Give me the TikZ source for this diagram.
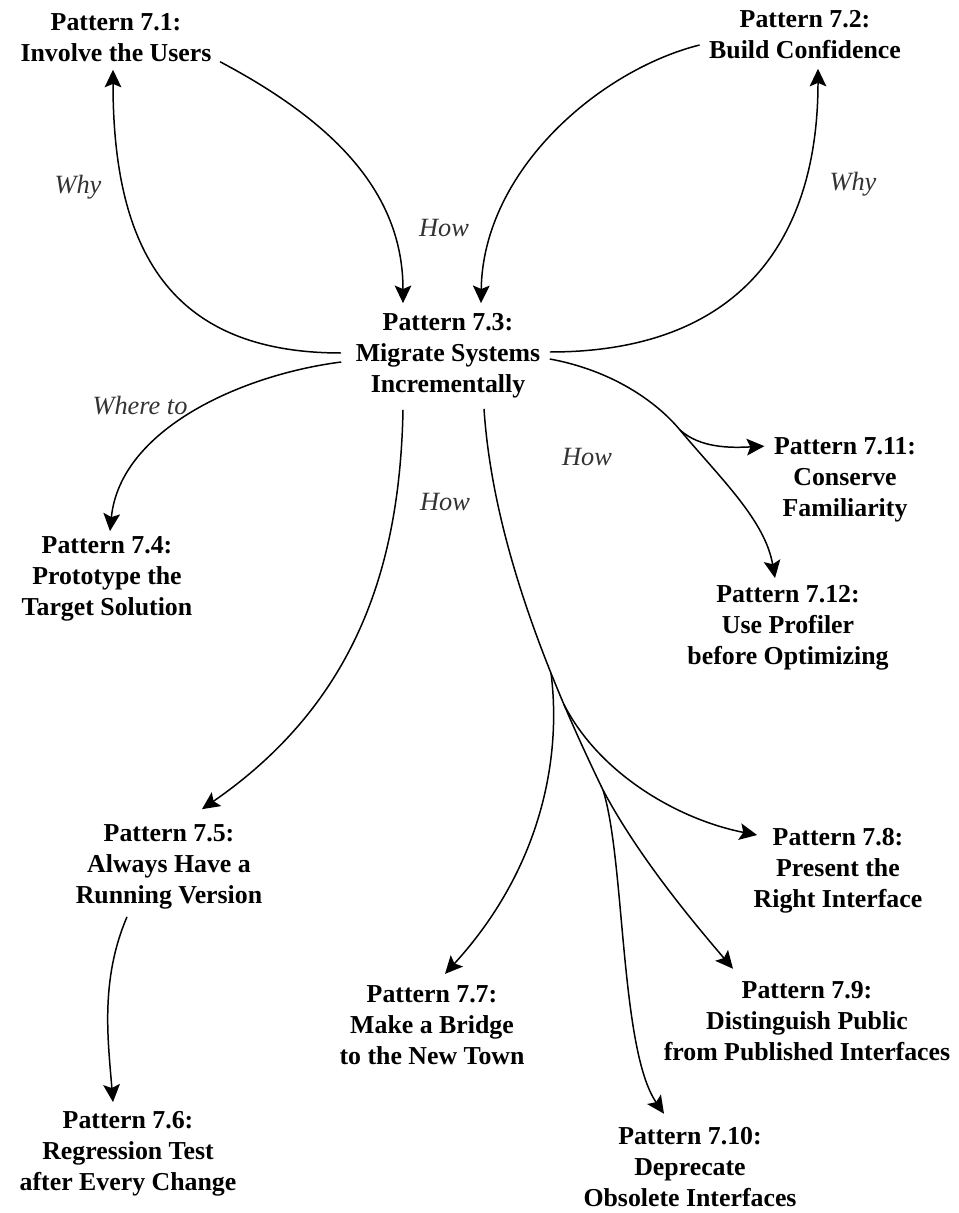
\documentclass[tikz,border=0pt]{standalone}
\usepackage{fontspec}
\setmainfont{Liberation Serif}
\usetikzlibrary{arrows.meta}

\tikzset{
  pat/.style={align=center, inner sep=3pt,
    font=\bfseries\fontsize{14.7}{17.6}\selectfont},
  lbl/.style={inner sep=0pt, text=black!80,
    font=\itshape\fontsize{15}{18}\selectfont},
  link/.style={line width=0.85pt},
  arr/.style={link, -{Stealth[length=10pt,width=9.5pt,inset=2pt]}}
}

\begin{document}
\begin{tikzpicture}[x=0.02cm,y=-0.02cm]
\useasboundingbox[fill=white] (0,0) rectangle (958,1213);

% pattern nodes
\node[pat] (n71)  at (116,38)   {Pattern 7.1:\\Involve the Users};
\node[pat] (n72)  at (805,35)   {Pattern 7.2:\\Build Confidence};
\node[pat] (n73)  at (448,356)  {Pattern 7.3:\\Migrate Systems\\Incrementally};
\node[pat] (n74)  at (107,579)  {Pattern 7.4:\\Prototype the\\Target Solution};
\node[pat] (n75)  at (169,867)  {Pattern 7.5:\\Always Have a\\Running Version};
\node[pat] (n76)  at (128,1154) {Pattern 7.6:\\Regression Test\\after Every Change};
\node[pat] (n77)  at (432,1025) {Pattern 7.7:\\Make a Bridge\\to the New Town};
\node[pat] (n78)  at (838,871)  {Pattern 7.8:\\Present the\\Right Interface};
\node[pat] (n79)  at (807,1021) {Pattern 7.9:\\Distinguish Public\\from Published Interfaces};
\node[pat] (n710) at (690,1167) {Pattern 7.10:\\Deprecate\\Obsolete Interfaces};
\node[pat] (n711) at (845,480)  {Pattern 7.11:\\Conserve\\Familiarity};
\node[pat] (n712) at (788,628)  {Pattern 7.12:\\Use Profiler\\before Optimizing};

% edge labels
\node[lbl] (lwhy1)   at (78,187)  {Why};
\node[lbl] (lhow1)   at (444,228) {How};
\node[lbl] (lwhy2)   at (853,184) {Why};
\node[lbl] (lwhere)  at (140,406) {Where to};
\node[lbl] (lhow2)   at (445,502) {How};
\node[lbl] (lhow3)   at (587,457) {How};

% upper loops
\draw[arr] ([shift={(-9,-3)}]n73.west) .. controls (170,353) and (113,250) .. ([shift={(-3,2)}]n71.south);
\draw[arr] ([shift={(3,-6)}]n71.south east) .. controls (330,120) and (403,190) .. ([shift={(-45,-5)}]n73.north);
\draw[arr] ([shift={(-4,10)}]n72.west) .. controls (600,70) and (483,170) .. ([shift={(33,-5)}]n73.north);
\draw[arr] ([shift={(4,-4)}]n73.east) .. controls (740,352) and (818,240) .. ([shift={(13,4)}]n72.south);

% left side
\draw[arr] ([shift={(-9,6)}]n73.west) .. controls (240,375) and (120,430) .. ([shift={(3,0)}]n74.north);
\draw[arr] ([shift={(-45,6)}]n73.south) .. controls (400,560) and (360,700) .. ([shift={(33,-10)}]n75.north);
\draw[arr] ([shift={(-42,2)}]n75.south) .. controls (100,980) and (108,1040) .. ([shift={(-15,-4)}]n76.north);

% upper right fork
\coordinate (j1) at (680,430);
\draw[link] ([shift={(4,3)}]n73.east) .. controls (610,370) and (655,400) .. (j1);
\draw[arr] (j1) .. controls (720,478) and (765,520) .. ([shift={(-13,-2)}]n712.north);
\draw[arr] (j1) .. controls (700,448) and (730,448) .. ([shift={(-4,14)}]n711.north west);

% lower fan
\draw[link] ([shift={(36,5)}]n73.south) .. controls (492,530) and (540,660) .. (603,790)
  coordinate[pos=0.7] (j2) coordinate[pos=0.78] (j3) coordinate (j4);
\draw[arr] (j2) .. controls (562,760) and (540,870) .. ([shift={(13,-6)}]n77.north);
\draw[arr] (j3) .. controls (600,775) and (680,820) .. ([shift={(9,12)}]n78.north west);
\draw[arr] (j4) .. controls (640,860) and (700,930) .. ([shift={(-74,-7)}]n79.north);
\draw[arr] (j4) .. controls (625,860) and (620,1050) .. ([shift={(-26,-8)}]n710.north);
\end{tikzpicture}
\end{document}
